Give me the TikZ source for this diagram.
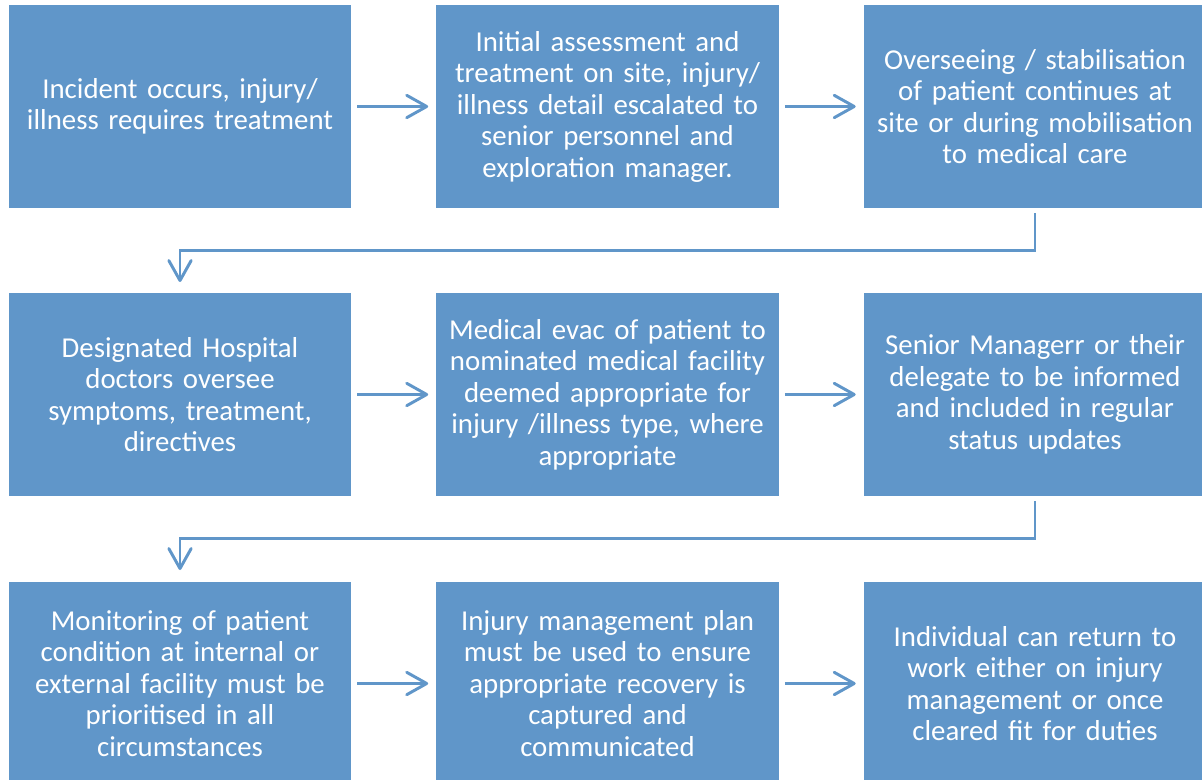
\documentclass[tikz,border=0pt]{standalone}
\usepackage{fontspec}
\setmainfont{Carlito}
\usetikzlibrary{arrows.meta}
\definecolor{cajaazul}{HTML}{6096C9}
\begin{document}
\begin{tikzpicture}[
  x=0.025cm, y=-0.025cm,
  caja/.style={fill=cajaazul, text=white, align=center, minimum width=8.55cm,
               minimum height=5.075cm, text width=8.4cm, inner sep=0pt,
               font=\fontsize{20.5}{22.4}\selectfont},
  flecha/.style={cajaazul, line width=2.1pt,
                 -{Straight Barb[length=5mm, width=5.6mm, round]},
                 shorten <=0.15cm, shorten >=0.2cm},
  codo/.style={cajaazul, line width=1.5pt,
               -{Straight Barb[length=5mm, width=5.6mm, line width=2.1pt, round]}}
]
  \useasboundingbox (0,0) rectangle (1202,780);
  \node[caja] (incident)   at (180,106.5)   {Incident occurs, injury/\\illness requires treatment};
  \node[caja] (assess)     at (607.5,106.5) {Initial assessment and\\treatment on site, injury/\\illness detail escalated to\\senior personnel and\\exploration manager.};
  \node[caja] (oversee)    at (1035,106.5)  {Overseeing / stabilisation\\of patient continues at\\site or during mobilisation\\to medical care};
  \node[caja] (hospital)   at (180,394.5)   {Designated Hospital\\doctors oversee\\symptoms, treatment,\\directives};
  \node[caja] (evac)       at (607.5,394.5) {Medical evac of patient to\\nominated medical facility\\deemed appropriate for\\injury /illness type, where\\appropriate};
  \node[caja] (informed)   at (1035,394.5)  {Senior Managerr or their\\delegate to be informed\\and included in regular\\status updates};
  \node[caja] (monitor)    at (180,683.5)   {Monitoring of patient\\condition at internal or\\external facility must be\\prioritised in all\\circumstances};
  \node[caja] (plan)       at (607.5,683.5) {Injury management plan\\must be used to ensure\\appropriate recovery is\\captured and\\communicated};
  \node[caja] (returnwork) at (1035,683.5)  {Individual can return to\\work either on injury\\management or once\\cleared fit for duties};
  % flechas dentro de cada fila
  \draw[flecha] (incident) -- (assess);
  \draw[flecha] (assess) -- (oversee);
  \draw[flecha] (hospital) -- (evac);
  \draw[flecha] (evac) -- (informed);
  \draw[flecha] (monitor) -- (plan);
  \draw[flecha] (plan) -- (returnwork);
  % codos entre filas
  \coordinate (fin1) at (180,282);
  \coordinate (fin2) at (180,570);
  \draw[codo] ([yshift=-0.12cm]oversee.south) |- (180,250.5) -- (fin1);
  \draw[codo] ([yshift=-0.12cm]informed.south) |- (180,538.5) -- (fin2);
\end{tikzpicture}
\end{document}
